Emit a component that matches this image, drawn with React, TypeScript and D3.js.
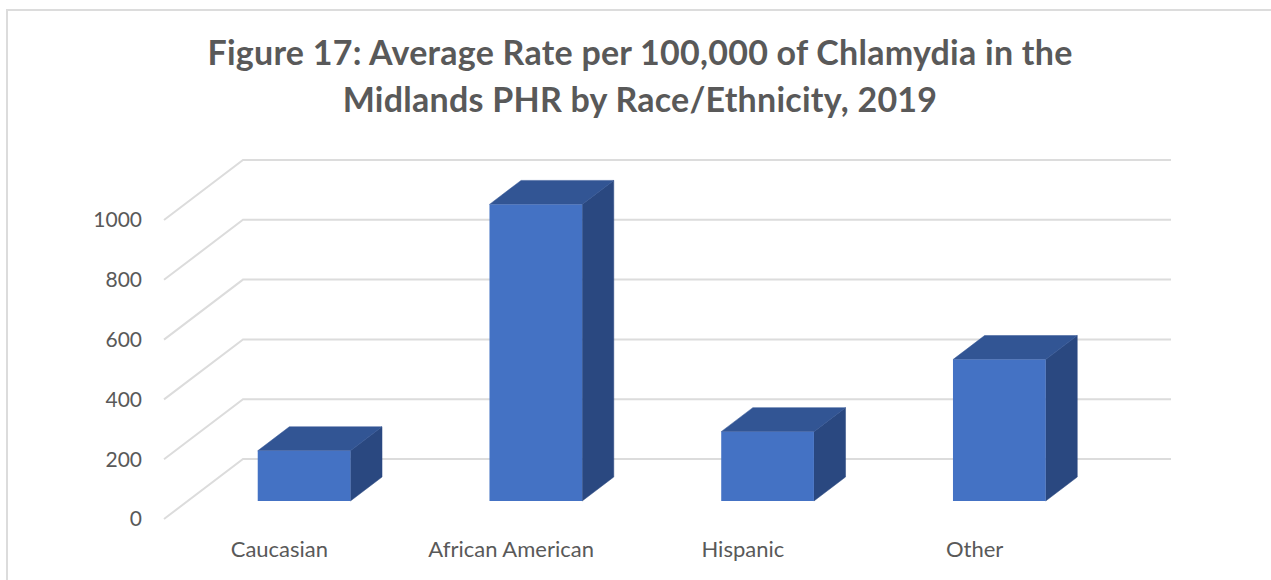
import React from "react";
import * as d3 from "d3";

const categories = ["Caucasian", "African American", "Hispanic", "Other"];
const rates = [168, 992, 232, 473];
const yTicks = [0, 200, 400, 600, 800, 1000];
const gridTicks = [0, 200, 400, 600, 800, 1000];
const titleLines = [
  "Figure 17: Average Rate per 100,000 of Chlamydia in the",
  "Midlands PHR by Race/Ethnicity, 2019",
];

const WIDTH = 1271;
const HEIGHT = 580;
const FONT = "Lato, 'Open Sans', sans-serif";
const TEXT = "#595959";
const GRID = "#dcdcdc";

// oblique depth of the 3d box
const DEPTH_X = 79;
const DEPTH_Y = -60;

const x = d3
  .scaleBand()
  .domain(categories)
  .range([164.5, 1091.5])
  .paddingInner(0.6)
  .paddingOuter(0.3);

const y = d3.scaleLinear().domain([0, 1000]).range([519, 220]);

// d is the depth fraction, 0 is the front plane and 1 the back wall
const project = (px: number, value: number, d: number): [number, number] => [
  px + d * DEPTH_X,
  y(value) + d * DEPTH_Y,
];

const poly = d3.line();

const Bar = ({ category, value }: { category: string; value: number }) => {
  const x0 = x(category) as number;
  const x1 = x0 + x.bandwidth();
  const near = 0.3;
  const far = 0.7;
  const front = [
    project(x0, 0, near),
    project(x1, 0, near),
    project(x1, value, near),
    project(x0, value, near),
  ];
  const top = [
    project(x0, value, near),
    project(x1, value, near),
    project(x1, value, far),
    project(x0, value, far),
  ];
  const side = [
    project(x1, 0, near),
    project(x1, 0, far),
    project(x1, value, far),
    project(x1, value, near),
  ];
  return (
    <g strokeLinejoin="round">
      <path d={poly(side) + "Z"} fill="#2a4880" stroke="#2a4880" strokeWidth={0.5} />
      <path d={poly(top) + "Z"} fill="#325594" stroke="#325594" strokeWidth={0.5} />
      <path d={poly(front) + "Z"} fill="#4472c4" />
    </g>
  );
};

export default function App() {
  return (
    <svg
      width={WIDTH}
      height={HEIGHT}
      style={{ position: "absolute", left: 0, top: 0, background: "#fff" }}
      fontFamily={FONT}
    >
      <path d={`M7,${HEIGHT}V10H${WIDTH}`} fill="none" stroke={GRID} strokeWidth={2} />

      {titleLines.map((line, i) => (
        <text
          key={line}
          x={640}
          y={65 + i * 46.5}
          textAnchor="middle"
          fontSize={34}
          letterSpacing={0.25}
          fontWeight={700}
          fill={TEXT}
        >
          {line}
        </text>
      ))}

      {gridTicks.map((t) => {
        const [fx, fy] = project(164, t, 0);
        const [bx, by] = project(164, t, 1);
        const [ex] = project(1092, t, 1);
        return (
          <path
            key={t}
            d={`M${fx},${fy}L${bx},${by}H${ex}`}
            fill="none"
            stroke={GRID}
            strokeWidth={2}
          />
        );
      })}

      {yTicks.map((t) => (
        <text
          key={t}
          x={142}
          y={y(t)}
          dy="0.35em"
          textAnchor="end"
          fontSize={21}
          fill={TEXT}
        >
          {t}
        </text>
      ))}

      {categories.map((c, i) => (
        <Bar key={c} category={c} value={rates[i]} />
      ))}

      {categories.map((c) => (
        <text
          key={c}
          x={(x(c) as number) + x.bandwidth() / 2 - 1}
          y={556.5}
          textAnchor="middle"
          fontSize={22}
          fill={TEXT}
        >
          {c}
        </text>
      ))}
    </svg>
  );
}
